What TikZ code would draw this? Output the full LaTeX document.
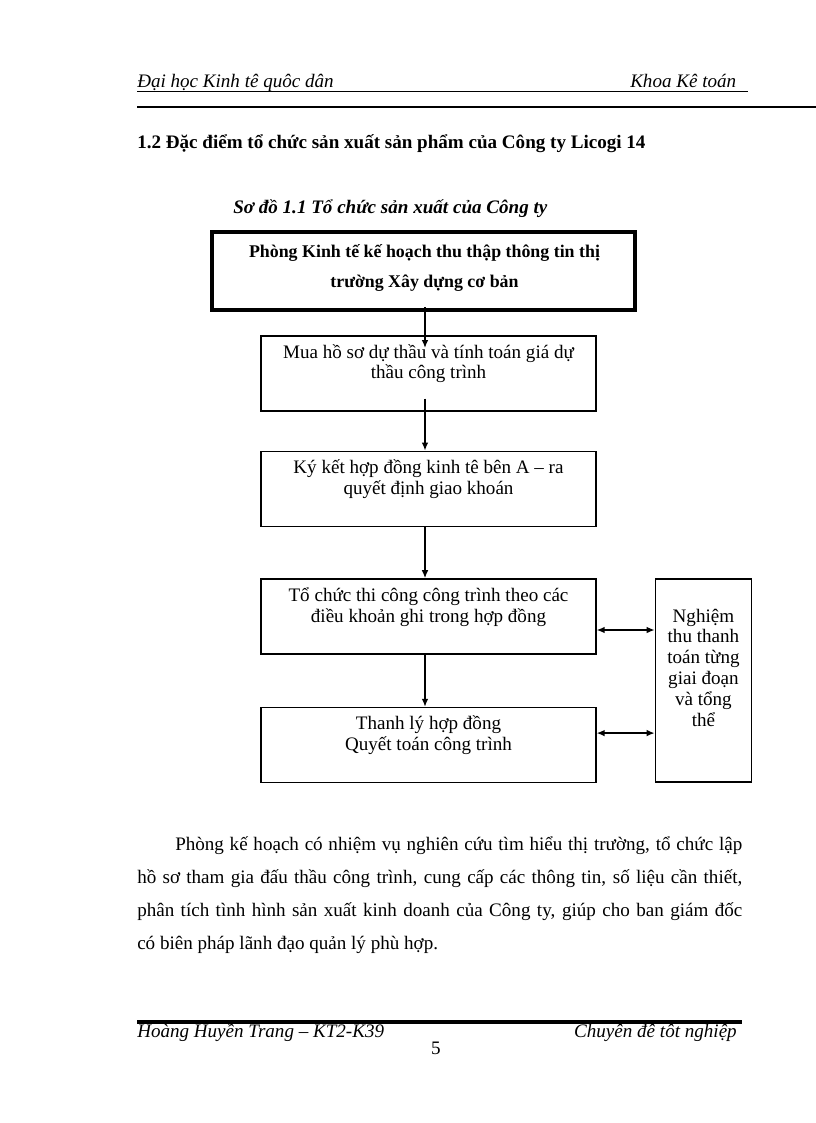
\documentclass[tikz,border=0pt]{standalone}
\usepackage{fontspec}
\setmainfont{Liberation Serif}
\usepackage{tikz}
\usetikzlibrary{positioning, calc}
\usetikzlibrary{shapes, arrows, arrows.meta}

\newcommand{\pagefont}{\fontsize{14.3pt}{15.6pt}\selectfont}

\begin{document}
\begin{tikzpicture}[x=0.75pt, y=-0.75pt,
    every node/.style={font=\pagefont},
    topbox/.style={rectangle, draw, line width=3pt, minimum width=317pt,
      minimum height=58.5pt},
    stepbox/.style={rectangle, draw, line width=1.2pt, minimum width=251pt,
      minimum height=56.25pt, align=center},
    sidebox/.style={rectangle, draw, line width=1.2pt, minimum width=72pt,
      minimum height=152.25pt, align=center},
    pagetext/.style={inner sep=0pt, font=\pagefont\itshape},
    flow/.style={-{Latex[length=6pt, width=5pt]}, line width=1.1pt},
    both/.style={{Latex[length=6pt, width=5pt]}-{Latex[length=6pt, width=5pt]}, line width=1.1pt}]
    \useasboundingbox (0,0) rectangle (816,1123);
    % page header and footer
    \node[pagetext, anchor=base west] (uni) at (137,88) {Đại học Kinh tê quôc dân};
    \node[pagetext, anchor=base west] (dept) at (630,88) {Khoa Kê toán};
    \draw[line width=0.7pt] (137,91) -- (748,91);
    \draw[line width=1.2pt] (137,107) -- (816,107);
    \node[anchor=base west, inner sep=0pt, font=\pagefont\bfseries]
      (sect) at (137,149) {1.2 Đặc điểm tổ chức sản xuất sản phẩm của Công ty Licogi 14};
    \node[anchor=base west, inner sep=0pt, font=\pagefont\bfseries\itshape]
      (title) at (233,214) {Sơ đồ 1.1 Tổ chức sản xuất của Công ty};
    % diagram
    \node[topbox] (plan) at (423.5,271) {};
    \node[align=center, font=\fontsize{13.4pt}{15.6pt}\selectfont\bfseries] (plantxt) at (424.5,268)
      {Phòng Kinh tế kế hoạch thu thập thông tin thị\\[7pt]trường Xây dựng cơ bản};
    \node[stepbox] (bid) [below=17.25pt of plan.south, xshift=3.75pt]
      {Mua hồ sơ dự thầu và tính toán giá dự\\thầu công trình\\[2pt]~};
    \node[stepbox] (contract) [below=29.25pt of bid]
      {Ký kết hợp đồng kinh tê bên A -- ra\\quyết định giao khoán\\[2pt]~};
    \node[stepbox] (build) [below=38.25pt of contract]
      {Tổ chức thi công công trình theo các\\điều khoản ghi trong hợp đồng\\[2pt]~};
    \node[stepbox] (settle) [below=39pt of build]
      {Thanh lý hợp đồng\\Quyết toán công trình\\[2pt]~};
    \node[sidebox] (accept) [below right=0pt and 43.5pt of build.north east]
      {Nghiệm\\thu thanh\\toán từng\\giai đoạn\\và tổng\\thể\\[4pt]~};
    \coordinate (ax) at ($(plan.south)+(1.5,0)$);
    \draw[flow] ($(ax)+(0,-5)$) -- ($(ax |- bid.north)+(0,13)$);
    \draw[flow] ($(ax |- bid.south)+(0,-13)$) -- (ax |- contract.north);
    \draw[flow] (ax |- contract.south) -- (ax |- build.north);
    \draw[flow] (ax |- build.south) -- (ax |- settle.north);
    \coordinate (b1) at ($(build.east)+(0,13.5)$);
    \coordinate (b2) at ($(settle.east)+(0,-12)$);
    \draw[both] (b1) -- (b1 -| accept.west);
    \draw[both] (b2) -- (b2 -| accept.west);
    % text below
    \node[anchor=north west, inner sep=0pt, text width=453.75pt, align=justify,
      font=\fontsize{14.3pt}{24.75pt}\selectfont] (intro) at (137,836)
      {\hspace*{28.5pt}Phòng kế hoạch có nhiệm vụ nghiên cứu tìm hiểu thị trường, tổ chức lập\linebreak
       hồ sơ tham gia đấu thầu công trình, cung cấp các thông tin, số liệu cần thiết,\linebreak
       phân tích tình hình sản xuất kinh doanh của Công ty, giúp cho ban giám đốc\linebreak
       có biên pháp lãnh đạo quản lý phù hợp.};
    \draw[line width=2.5pt] (137,1022) -- (742,1022);
    \node[pagetext, anchor=base west] (author) at (137,1037) {Hoàng Huyền Trang -- KT2-K39};
    \node[pagetext, anchor=base east] (topic) at (737,1037) {Chuyên đê tôt nghiệp};
    \node[anchor=base, inner sep=0pt] (pageno) at (436,1054) {5};
  \end{tikzpicture}
\end{document}
